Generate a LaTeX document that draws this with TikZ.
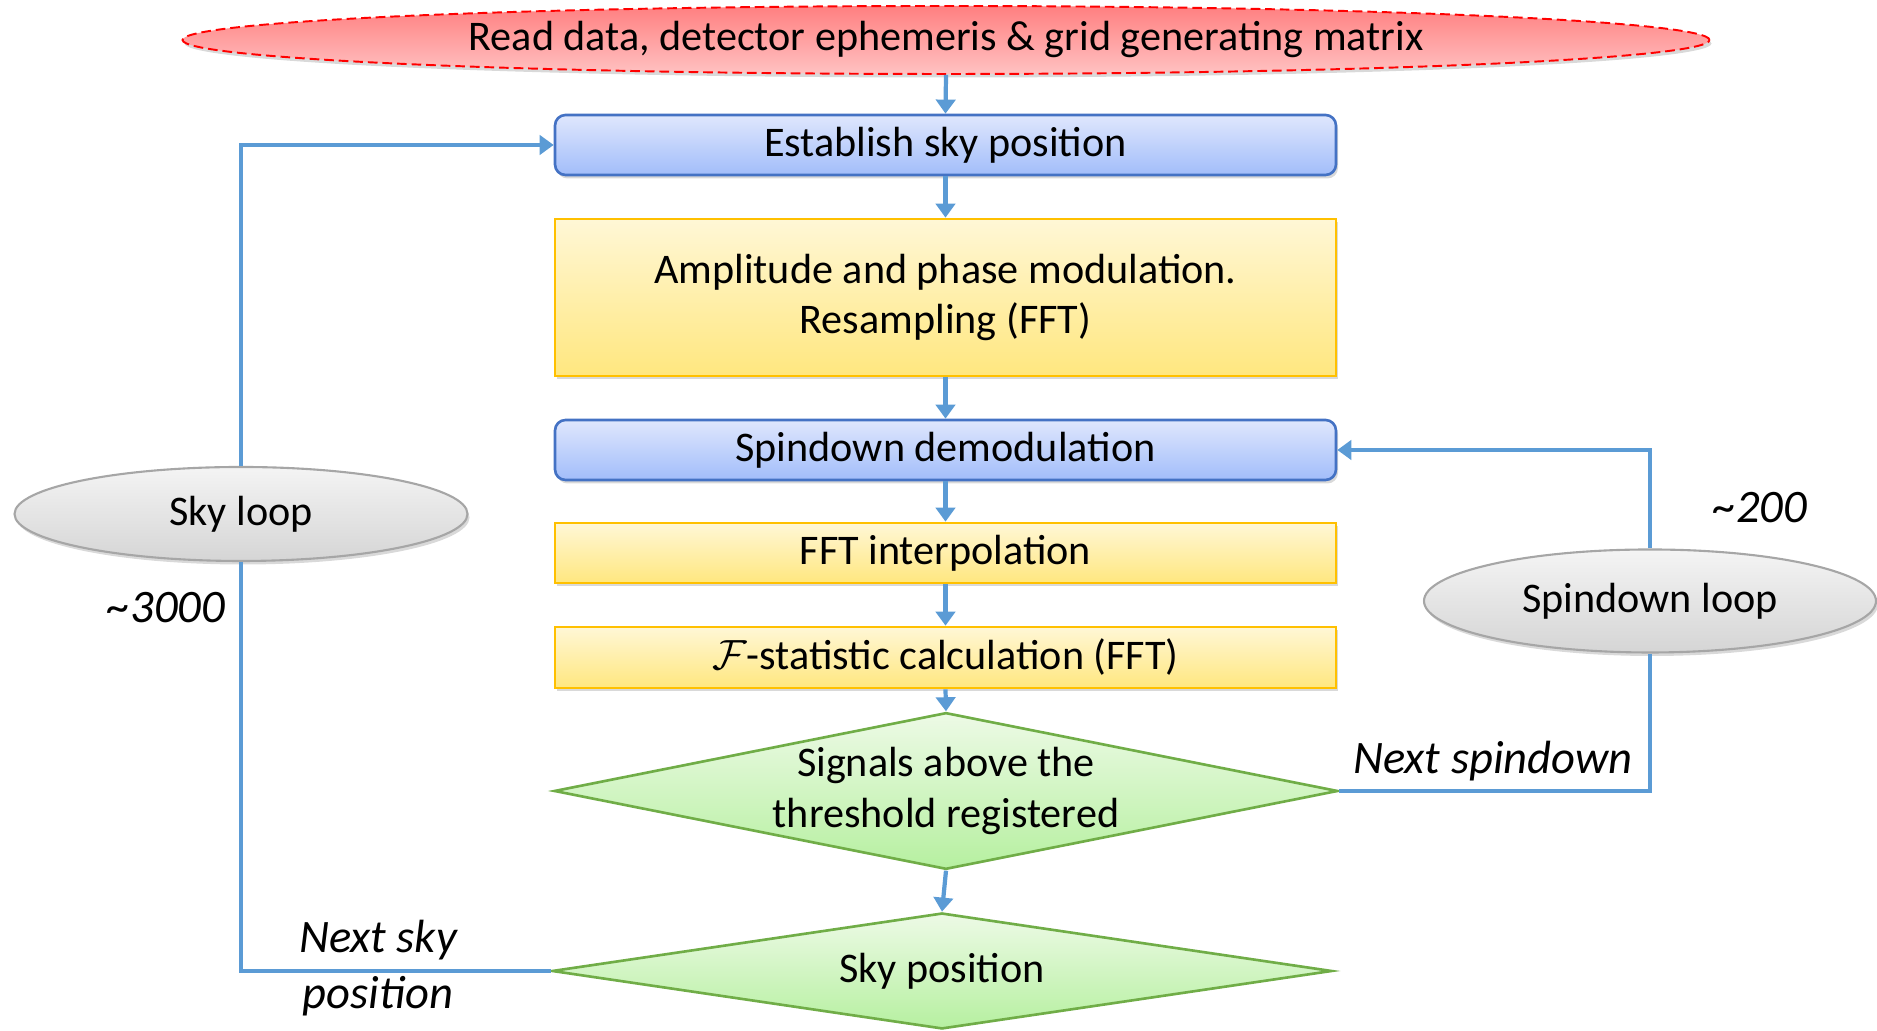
\documentclass[tikz,border=0pt]{standalone}
\usepackage{fix-cm}
\usepackage{fontspec}
\setmainfont{Carlito}
\usetikzlibrary{shapes.geometric,arrows.meta,shadows}

\definecolor{linkblue}{HTML}{5B9BD5}
\definecolor{redtop}{HTML}{FF7F80}
\definecolor{redbot}{HTML}{FFC2C2}
\definecolor{bluedraw}{HTML}{4472C4}
\definecolor{bluetop}{HTML}{DFE7FD}
\definecolor{bluebot}{HTML}{A2BDFA}
\definecolor{yeldraw}{HTML}{FFC000}
\definecolor{yeltop}{HTML}{FFF7D6}
\definecolor{yelbot}{HTML}{FFE77F}
\definecolor{grndraw}{HTML}{70AD47}
\definecolor{grntop}{HTML}{EDFAE6}
\definecolor{grnbot}{HTML}{B6F0A0}
\definecolor{grydraw}{HTML}{A6A6A6}
\definecolor{grytop}{HTML}{F4F4F4}
\definecolor{grybot}{HTML}{D5D5D5}

\begin{document}
\begin{tikzpicture}
        \tikzstyle{every node} = [font=\fontsize{24}{29}\selectfont, align=center, inner sep=0pt]
        \tikzstyle{softshadow} = [drop shadow={opacity=0.3, shadow xshift=0.04cm, shadow yshift=-0.07cm}]
        \tikzstyle{rnode} = [ellipse, draw=red, line width=1.1pt, dash pattern=on 5.5pt off 2.8pt, top color=redtop, bottom color=redbot, softshadow, minimum width=30.54cm, minimum height=1.36cm]
        \tikzstyle{bnode} = [rectangle, rounded corners=6pt, draw=bluedraw, line width=1.5pt, top color=bluetop, bottom color=bluebot, softshadow, minimum width=15.62cm, minimum height=1.2cm]
        \tikzstyle{ynode} = [rectangle, draw=yeldraw, line width=1.5pt, top color=yeltop, bottom color=yelbot, softshadow, minimum width=15.62cm, minimum height=1.2cm]
        \tikzstyle{gnode} = [diamond, draw=grndraw, line width=1.5pt, top color=grntop, bottom color=grnbot, minimum width=15.62cm]
        \tikzstyle{lnode} = [ellipse, draw=grydraw, line width=1.2pt, top color=grytop, bottom color=grybot, softshadow]
        \tikzstyle{tnode} = [font=\fontsize{26.5}{32}\selectfont\itshape]
        \tikzstyle{link} = [draw=linkblue, line width=2.4pt, -{Triangle[width=11pt,length=8pt]}]
        \tikzstyle{line} = [draw=linkblue, line width=2.4pt]

        \useasboundingbox (0,0) rectangle (37.54,20.62);

        \node[rnode] (read) at (18.92,19.82) {Read data, detector ephemeris \& grid generating matrix};
        \node[bnode] (sky) at (18.91,17.72) {Establish sky position};
        \node[ynode, minimum height=3.14cm] (amp) at (18.91,14.67) {Amplitude and phase modulation.\\Resampling (FFT)};
        \node[bnode] (spin) at (18.91,11.62) {Spindown demodulation};
        \node[ynode] (interp) at (18.91,9.56) {FFT interpolation};
        \node[ynode, minimum height=1.22cm] (fstat) at (18.91,7.47) {$\mathcal{F}$-statistic calculation (FFT)};
        \node[gnode, aspect=5, minimum height=3.12cm] (signals) at (18.92,4.8) {Signals above the\\threshold registered};
        \node[gnode, aspect=6.7, minimum width=15.6cm, minimum height=2.32cm] (skypos) at (18.84,1.2) {Sky position};

        \node[lnode, minimum width=9.06cm, minimum height=1.88cm] (skyloop) at (4.82,10.34) {Sky loop};
        \node[lnode, minimum width=9.04cm, minimum height=2.06cm] (spinloop) at (33.0,8.6) {Spindown loop};

        \node[tnode] (nsky) at (3.32,8.46) {\textasciitilde3000};
        \node[tnode] (nspin) at (35.2,10.46) {\textasciitilde200};
        \node[tnode] (nextspin) at (29.86,5.4) {Next spindown};
        \node[tnode] (nextsky) at (7.56,1.26) {Next sky\\position};

        % main column
        \draw[link] (read.south) -- (sky.north);
        \draw[link] (sky) -- (amp);
        \draw[link] (amp) -- (spin);
        \draw[link] (spin) -- (interp);
        \draw[link] (interp) -- (fstat);
        \draw[link] (fstat.south) -- (signals.north);
        \draw[link] (signals.south) -- (skypos.north);

        % sky loop
        \draw[line] (skypos.west) -| (skyloop.south);
        \draw[link] (skyloop.north) |- (sky.west);

        % spindown loop
        \draw[line] (signals.east) -| (spinloop.south);
        \draw[link] (spinloop.north) |- (spin.east);
      \end{tikzpicture}
\end{document}
